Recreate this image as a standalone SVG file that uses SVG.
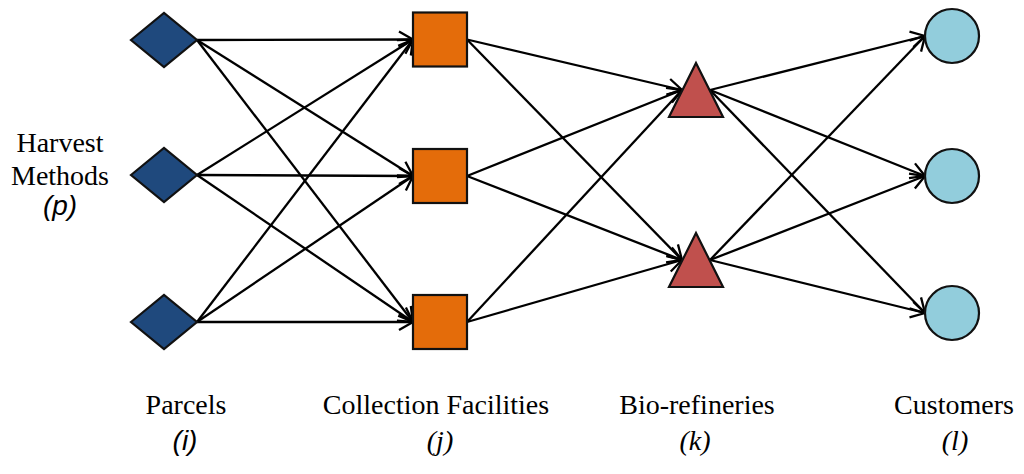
<svg xmlns="http://www.w3.org/2000/svg" width="1024" height="474" viewBox="0 0 1024 474">
<style>
.shape{stroke:#111;stroke-width:2.2;stroke-linejoin:miter}
.dia{fill:#1F497D}
.sq{fill:#E46C0A}
.tri{fill:#C0504D}
.cir{fill:#92CDDC}
.edge{stroke:#000;stroke-width:2.3;fill:none;marker-end:url(#arr)}
.lbl{font-family:"Liberation Serif","Times New Roman",serif;font-size:28px;fill:#000;text-anchor:middle}
.sub{font-family:"Liberation Serif","Times New Roman",serif;font-style:italic;font-size:28px;fill:#000;text-anchor:middle}
.subs{font-family:"Liberation Sans",Arial,sans-serif;font-style:italic;font-size:28px;fill:#000;text-anchor:middle}
</style>
<defs>
<marker id="arr" viewBox="-16 -10 18 20" refX="0" refY="0" markerWidth="18" markerHeight="20" markerUnits="userSpaceOnUse" orient="auto" overflow="visible">
<path d="M-14,-8 L0,0 L-14,8" fill="none" stroke="#000" stroke-width="2.3"/>
</marker>
</defs>
<g id="connectors">
<line class="edge" x1="197" y1="40" x2="413" y2="39.5"/>
<line class="edge" x1="197" y1="40" x2="413" y2="176"/>
<line class="edge" x1="197" y1="40" x2="413" y2="322"/>
<line class="edge" x1="197" y1="175" x2="413" y2="39.5"/>
<line class="edge" x1="197" y1="175" x2="413" y2="176"/>
<line class="edge" x1="197" y1="175" x2="413" y2="322"/>
<line class="edge" x1="197" y1="322" x2="413" y2="39.5"/>
<line class="edge" x1="197" y1="322" x2="413" y2="176"/>
<line class="edge" x1="197" y1="322" x2="413" y2="322"/>
<line class="edge" x1="467" y1="39.5" x2="682" y2="90"/>
<line class="edge" x1="467" y1="39.5" x2="682" y2="260"/>
<line class="edge" x1="467" y1="176" x2="682" y2="90"/>
<line class="edge" x1="467" y1="176" x2="682" y2="260"/>
<line class="edge" x1="467" y1="322" x2="682" y2="90"/>
<line class="edge" x1="467" y1="322" x2="682" y2="260"/>
<line class="edge" x1="710" y1="90" x2="925" y2="36"/>
<line class="edge" x1="710" y1="90" x2="925" y2="176"/>
<line class="edge" x1="710" y1="90" x2="925" y2="313"/>
<line class="edge" x1="710" y1="260" x2="925" y2="36"/>
<line class="edge" x1="710" y1="260" x2="925" y2="176"/>
<line class="edge" x1="710" y1="260" x2="925" y2="313"/>
</g>
<g id="parcel1"><polygon class="shape dia" points="131,40 164,13 197,40 164,67"/></g>
<g id="parcel2"><polygon class="shape dia" points="131,175 164,148 197,175 164,202"/></g>
<g id="parcel3"><polygon class="shape dia" points="131,322 164,295 197,322 164,349"/></g>
<g id="facility1"><rect class="shape sq" x="413" y="12.5" width="54" height="54"/></g>
<g id="facility2"><rect class="shape sq" x="413" y="149" width="54" height="54"/></g>
<g id="facility3"><rect class="shape sq" x="413" y="295" width="54" height="54"/></g>
<g id="refinery1"><polygon class="shape tri" points="696,63 723,117 669,117"/></g>
<g id="refinery2"><polygon class="shape tri" points="696,233 723,287 669,287"/></g>
<g id="customer1"><circle class="shape cir" cx="952" cy="36" r="27"/></g>
<g id="customer2"><circle class="shape cir" cx="952" cy="176" r="27"/></g>
<g id="customer3"><circle class="shape cir" cx="952" cy="313" r="27"/></g>
<g id="labels">
<text class="lbl" x="60" y="152">Harvest</text>
<text class="lbl" x="60" y="185">Methods</text>
<text class="subs" x="60" y="215">(p)</text>
<text class="lbl" x="186" y="414">Parcels</text>
<text class="subs" x="185" y="450">(i)</text>
<text class="lbl" x="436" y="414">Collection Facilities</text>
<text class="sub" x="440" y="450">(j)</text>
<text class="lbl" x="697" y="414">Bio-refineries</text>
<text class="sub" x="695" y="450">(k)</text>
<text class="lbl" x="954" y="414">Customers</text>
<text class="sub" x="955" y="450">(l)</text>
</g>
</svg>
